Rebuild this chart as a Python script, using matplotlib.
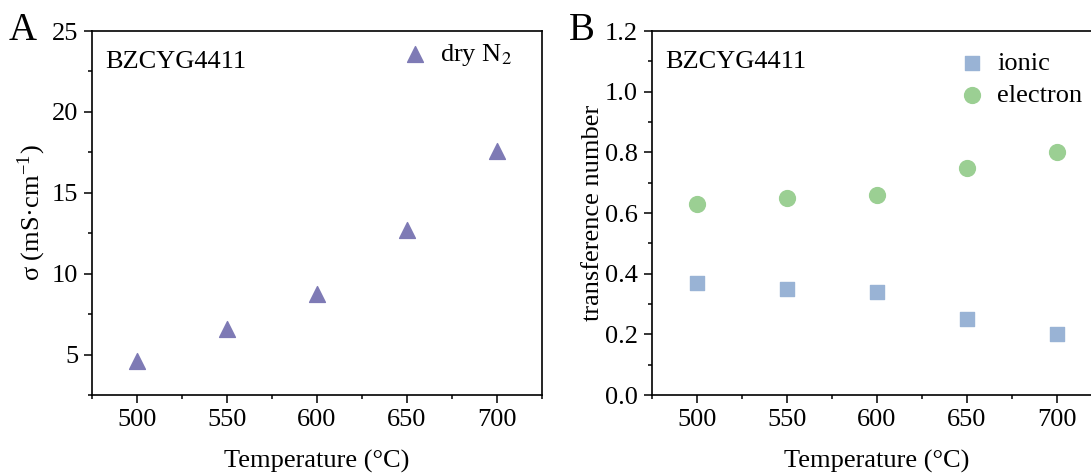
import matplotlib.pyplot as plt
from matplotlib.ticker import MultipleLocator

plt.rcParams["font.family"] = ["Liberation Serif", "DejaVu Serif"]
plt.rcParams["mathtext.fontset"] = "stix"

temps = [500, 550, 600, 650, 700]
sigma_dry_n2 = [4.6, 6.6, 8.75, 12.7, 17.6]
t_ionic = [0.37, 0.35, 0.34, 0.25, 0.20]
t_electron = [0.63, 0.65, 0.66, 0.75, 0.80]

fig = plt.figure(figsize=(10.91, 4.75), dpi=100)
ax1 = fig.add_axes([0.0843, 0.1684, 0.4125, 0.7663])
ax2 = fig.add_axes([0.5976, 0.1684, 0.4125, 0.7663])

ax1.scatter(temps, sigma_dry_n2, marker="^", s=130, color="#7E7AB5", label="dry N$_2$", zorder=3)
ax2.scatter(temps, t_ionic, marker="s", s=110, color="#99B3D5", label="ionic", zorder=3)
ax2.scatter(temps, t_electron, marker="o", s=130, color="#9BCF93", label="electron", zorder=3)

ax1.set_ylim(2.5, 25)
ax1.yaxis.set_major_locator(MultipleLocator(5))
ax1.yaxis.set_minor_locator(MultipleLocator(2.5))
ax1.set_ylabel("σ (mS·cm$^{\\mathregular{-1}}$)", fontsize=19, labelpad=3)

ax2.set_ylim(0, 1.2)
ax2.yaxis.set_major_locator(MultipleLocator(0.2))
ax2.yaxis.set_minor_locator(MultipleLocator(0.1))
ax2.yaxis.set_major_formatter(plt.FormatStrFormatter("%.1f"))
ax2.set_ylabel("transference number", fontsize=19, labelpad=1)

for ax in (ax1, ax2):
    ax.set_xlim(475, 725)
    ax.xaxis.set_major_locator(MultipleLocator(50))
    ax.xaxis.set_minor_locator(MultipleLocator(25))
    ax.set_xlabel("Temperature (°C)", fontsize=19, labelpad=14)
    ax.tick_params(which="both", direction="out", top=False, right=False, labelsize=19, width=1.1)
    ax.tick_params(which="major", length=6, pad=4)
    ax.tick_params(which="minor", length=3)
    for sp in ax.spines.values():
        sp.set_linewidth(1.2)
    ax.text(0.03, 0.915, "BZCYG4411", transform=ax.transAxes, fontsize=19, va="center")

ax1.legend(loc="upper left", bbox_to_anchor=(0.689, 0.97), frameon=False, fontsize=19,
           handlelength=1, handletextpad=0.45, borderpad=0, borderaxespad=0)
ax2.legend(loc="upper left", bbox_to_anchor=(0.682, 0.945), frameon=False, fontsize=19,
           handlelength=1, handletextpad=0.45, labelspacing=0.35, borderpad=0, borderaxespad=0)

fig.text(0.008, 0.915, "A", fontsize=28)
fig.text(0.521, 0.915, "B", fontsize=28)

fig.savefig("out.png", dpi=100)
